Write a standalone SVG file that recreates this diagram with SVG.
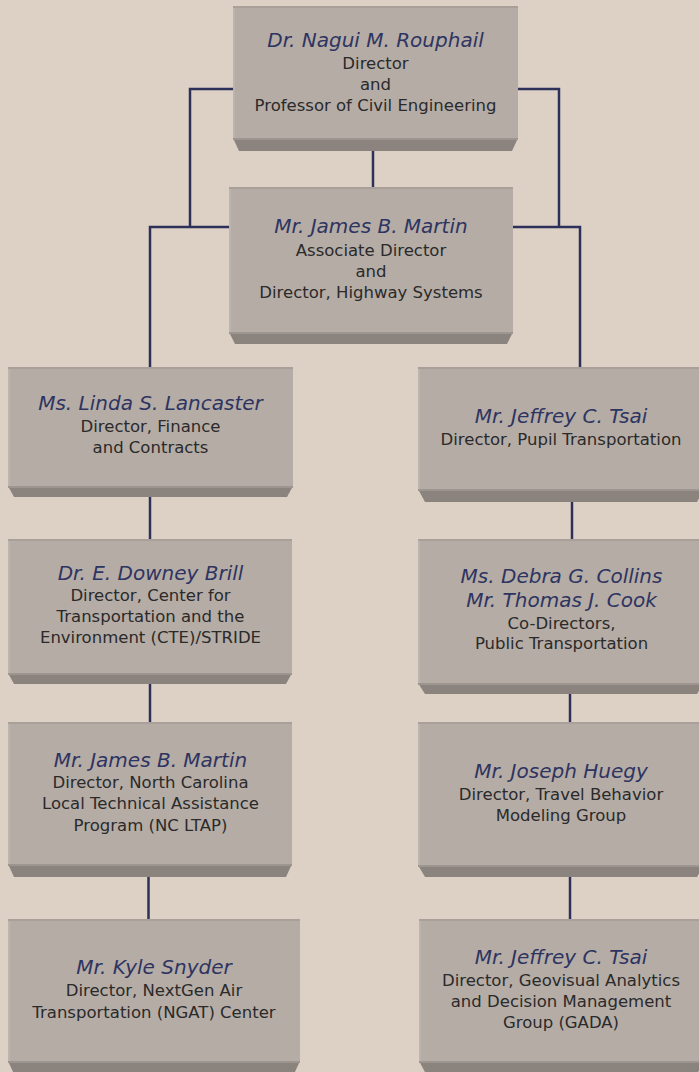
<svg xmlns="http://www.w3.org/2000/svg" width="699" height="1072" viewBox="0 0 699 1072">
<defs>
<style>
.bg{fill:#ddd1c6}
.face{fill:#b5aca6}
.top{fill:#a9a09a}
.left{fill:#bcb4ae}
.bevel{fill:#8b837d}
.bevtop{fill:#9d958f}
.conn{fill:none;stroke:#2d3058;stroke-width:2.5}
.nm{font-family:"DejaVu Sans",Verdana,sans-serif;font-style:italic;font-size:20px;fill:#2e3461;text-anchor:middle}
.tx{font-family:"DejaVu Sans",Verdana,sans-serif;font-size:16.5px;fill:#2a2a2a;text-anchor:middle}
</style>
</defs>
<rect class="bg" x="0" y="0" width="699" height="1072"/>

<g id="connectors">
<path class="conn" d="M233,89 H190 V227"/>
<path class="conn" d="M229,227 H150 V367"/>
<path class="conn" d="M518,89 H559 V227"/>
<path class="conn" d="M513,227 H580 V367"/>
<path class="conn" d="M373,151 V187"/>
<path class="conn" d="M150,497 V539"/>
<path class="conn" d="M150,684 V722"/>
<path class="conn" d="M148.5,877 V919"/>
<path class="conn" d="M572,502 V539"/>
<path class="conn" d="M570,694 V722"/>
<path class="conn" d="M570,877 V919"/>
</g>

<g id="n1">
<rect class="face" x="233" y="6" width="285" height="132"/>
<rect class="top" x="233" y="6" width="285" height="2"/>
<rect class="left" x="233" y="8" width="2" height="130"/>
<polygon class="bevel" points="233,138 518,138 512,151 239,151"/>
<rect class="bevtop" x="233" y="138" width="285" height="2"/>
<text class="nm" x="375.5" y="47">Dr. Nagui M. Rouphail</text>
<text class="tx" x="375.5" y="69">Director</text>
<text class="tx" x="375.5" y="90">and</text>
<text class="tx" x="375.5" y="111">Professor of Civil Engineering</text>
</g>

<g id="n2">
<rect class="face" x="229" y="187" width="284" height="145"/>
<rect class="top" x="229" y="187" width="284" height="2"/>
<rect class="left" x="229" y="189" width="2" height="143"/>
<polygon class="bevel" points="229,332 513,332 507,344 235,344"/>
<rect class="bevtop" x="229" y="332" width="284" height="2"/>
<text class="nm" x="371" y="233">Mr. James B. Martin</text>
<text class="tx" x="371" y="256">Associate Director</text>
<text class="tx" x="371" y="277">and</text>
<text class="tx" x="371" y="298">Director, Highway Systems</text>
</g>

<g id="n3">
<rect class="face" x="8" y="367" width="285" height="119"/>
<rect class="top" x="8" y="367" width="285" height="2"/>
<rect class="left" x="8" y="369" width="2" height="117"/>
<polygon class="bevel" points="8,486 293,486 287,497 14,497"/>
<rect class="bevtop" x="8" y="486" width="285" height="2"/>
<text class="nm" x="150.5" y="410">Ms. Linda S. Lancaster</text>
<text class="tx" x="150.5" y="432">Director, Finance</text>
<text class="tx" x="150.5" y="453">and Contracts</text>
</g>

<g id="n4">
<rect class="face" x="418" y="367" width="286" height="122"/>
<rect class="top" x="418" y="367" width="286" height="2"/>
<rect class="left" x="418" y="369" width="2" height="120"/>
<polygon class="bevel" points="418,489 704,489 697,502 425,502"/>
<rect class="bevtop" x="418" y="489" width="286" height="2"/>
<text class="nm" x="561" y="423">Mr. Jeffrey C. Tsai</text>
<text class="tx" x="561" y="445">Director, Pupil Transportation</text>
</g>

<g id="n5">
<rect class="face" x="8" y="539" width="284" height="134"/>
<rect class="top" x="8" y="539" width="284" height="2"/>
<rect class="left" x="8" y="541" width="2" height="132"/>
<polygon class="bevel" points="8,673 292,673 286,684 14,684"/>
<rect class="bevtop" x="8" y="673" width="284" height="2"/>
<text class="nm" x="150.5" y="580">Dr. E. Downey Brill</text>
<text class="tx" x="150.5" y="601">Director, Center for</text>
<text class="tx" x="150.5" y="622">Transportation and the</text>
<text class="tx" x="150.5" y="643">Environment (CTE)/STRIDE</text>
</g>

<g id="n6">
<rect class="face" x="418" y="539" width="286" height="144"/>
<rect class="top" x="418" y="539" width="286" height="2"/>
<rect class="left" x="418" y="541" width="2" height="142"/>
<polygon class="bevel" points="418,683 704,683 697,694 425,694"/>
<rect class="bevtop" x="418" y="683" width="286" height="2"/>
<text class="nm" x="561.5" y="583">Ms. Debra G. Collins</text>
<text class="nm" x="561.5" y="607">Mr. Thomas J. Cook</text>
<text class="tx" x="561.5" y="629">Co-Directors,</text>
<text class="tx" x="561.5" y="649">Public Transportation</text>
</g>

<g id="n7">
<rect class="face" x="8" y="722" width="284" height="142"/>
<rect class="top" x="8" y="722" width="284" height="2"/>
<rect class="left" x="8" y="724" width="2" height="140"/>
<polygon class="bevel" points="8,864 292,864 286,877 14,877"/>
<rect class="bevtop" x="8" y="864" width="284" height="2"/>
<text class="nm" x="150.5" y="767">Mr. James B. Martin</text>
<text class="tx" x="150.5" y="788">Director, North Carolina</text>
<text class="tx" x="150.5" y="809">Local Technical Assistance</text>
<text class="tx" x="150.5" y="831">Program (NC LTAP)</text>
</g>

<g id="n8">
<rect class="face" x="418" y="722" width="286" height="143"/>
<rect class="top" x="418" y="722" width="286" height="2"/>
<rect class="left" x="418" y="724" width="2" height="141"/>
<polygon class="bevel" points="418,865 704,865 697,877 425,877"/>
<rect class="bevtop" x="418" y="865" width="286" height="2"/>
<text class="nm" x="561" y="778">Mr. Joseph Huegy</text>
<text class="tx" x="561" y="800">Director, Travel Behavior</text>
<text class="tx" x="561" y="821">Modeling Group</text>
</g>

<g id="n9">
<rect class="face" x="8" y="919" width="292" height="142"/>
<rect class="top" x="8" y="919" width="292" height="2"/>
<rect class="left" x="8" y="921" width="2" height="140"/>
<polygon class="bevel" points="8,1061 300,1061 294,1074 14,1074"/>
<rect class="bevtop" x="8" y="1061" width="292" height="2"/>
<text class="nm" x="154" y="974">Mr. Kyle Snyder</text>
<text class="tx" x="154" y="996">Director, NextGen Air</text>
<text class="tx" x="154" y="1018">Transportation (NGAT) Center</text>
</g>

<g id="n10">
<rect class="face" x="419" y="919" width="285" height="142"/>
<rect class="top" x="419" y="919" width="285" height="2"/>
<rect class="left" x="419" y="921" width="2" height="140"/>
<polygon class="bevel" points="419,1061 704,1061 697,1074 426,1074"/>
<rect class="bevtop" x="419" y="1061" width="285" height="2"/>
<text class="nm" x="561" y="964">Mr. Jeffrey C. Tsai</text>
<text class="tx" x="561" y="986">Director, Geovisual Analytics</text>
<text class="tx" x="561" y="1007">and Decision Management</text>
<text class="tx" x="561" y="1028">Group (GADA)</text>
</g>
</svg>
